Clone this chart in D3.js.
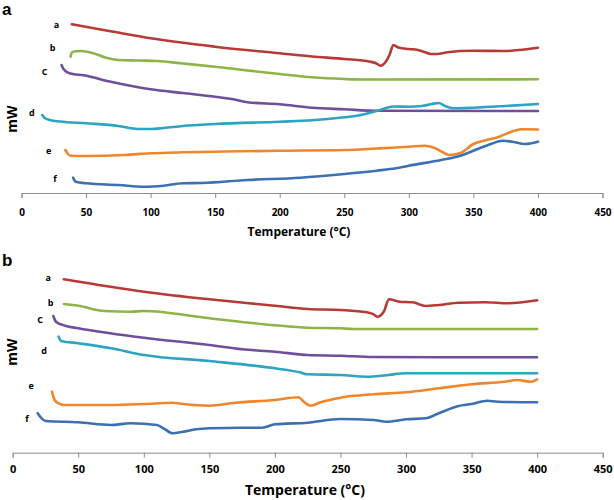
<!DOCTYPE html>
<html>
<head>
<meta charset="utf-8">
<script src="https://cdn.jsdelivr.net/npm/d3@7"></script>
<style>
  html, body { margin: 0; padding: 0; background: #fff; }
  svg { display: block; }
</style>
</head>
<body>
<svg id="chart" width="614" height="500"></svg>
<script>
// ---- DATA (x = Temperature °C, y = heat flow, arbitrary mW offset above axis) ----
const xTicks = [0, 50, 100, 150, 200, 250, 300, 350, 400, 450];
const seriesNames = ["a", "b", "C", "d", "e", "f"];
const seriesColors = ["#b83a36", "#8db446", "#6f4e9c", "#2ea3c2", "#f0862c", "#3d6fb3"];

// Panel a
const aT_a = [[39,168.7],[70,161.5],[100,154.7],[150,146.3],[200,139.7],[225,136.5],[250,134],[270,131.3],[275,129.5],[278,127.3],[282,131],[285,138],[288,148],[292,145.5],[300,144],[307,143],[312,141],[317,139],[322,139],[330,140.7],[340,142],[350,142.3],[375,142],[385,143],[400,145.3]];
const aT_b = [[38,136.3],[39,140.5],[42,141.8],[46,142],[55,140],[65,135.5],[75,133],[90,132.5],[105,132],[125,129.5],[150,126.3],[175,122.5],[200,119],[225,115.7],[250,114],[265,113.5],[400,113.7]];
const aT_c = [[31,128],[32,125],[34,122],[38,119.5],[48,117.7],[70,111],[100,103.7],[125,100],[150,96.3],[165,93.5],[175,90.7],[200,88.7],[225,85.3],[250,83.7],[275,82.2],[400,82]];
const aT_d = [[16,78],[18,75],[22,73],[30,71.5],[50,69.7],[75,67],[90,64],[100,64],[110,65],[125,67],[150,69],[200,71.3],[225,72.7],[250,75.7],[260,77.3],[275,82],[288,86.5],[300,86.3],[310,87],[318,89],[323,90],[328,87],[334,84.7],[350,85.3],[375,87],[400,89]];
const aT_e = [[34,43],[36,39],[38,37.3],[50,37],[80,38],[100,39.7],[125,40.7],[150,41.3],[200,42.3],[250,43],[275,44.5],[300,46.2],[312,47.3],[320,45],[326,41],[331,38],[340,40],[350,49],[360,53],[370,56.3],[380,61.5],[387,63.7],[400,63.5]];
const aT_f = [[40,15.3],[42,11.3],[50,9.7],[75,8],[95,6.3],[110,7.3],[125,9.7],[140,10],[175,13],[216,15.3],[250,19],[275,22.3],[290,24.7],[300,27.3],[325,33],[340,37.3],[350,42.3],[360,47.3],[373,52.3],[380,51.3],[390,49],[400,51.3]];

// Panel b
const bT_a = [[39,173.4],[100,161],[150,153.4],[200,147],[225,143.7],[250,142.7],[270,140.4],[275,138.5],[278,136],[283,141],[287,153.4],[295,151],[305,150.4],[315,146.7],[325,147.7],[340,150],[360,150.4],[378,149.4],[400,152.4]];
const bT_b = [[39,148.7],[50,147],[70,141.7],[90,141],[100,141.7],[150,134.4],[200,127.4],[225,125],[250,124.4],[260,123.7],[400,123.7]];
const bT_c = [[31,136.7],[33,131],[40,127],[50,124.4],[100,115],[150,107.7],[175,103.4],[200,101],[225,97.7],[250,97],[275,95.7],[400,95.4]];
const bT_d = [[35,116],[37,111.7],[50,109.4],[75,104.4],[100,97.7],[150,91.7],[200,84.4],[219,80.4],[225,78.4],[250,77.7],[270,76],[285,77.5],[300,79.4],[400,79.4]];
const bT_e = [[30,61],[32,52.7],[35,49.4],[40,47.7],[75,47.7],[100,48.7],[122,50],[130,48.7],[150,47],[170,50],[200,52.7],[218,55.4],[222,51],[227,47],[235,50.5],[250,55],[275,58.4],[300,60.4],[325,64.4],[350,68.4],[375,71],[385,72.7],[395,71],[400,73.4]];
const bT_f = [[19,39.4],[22,34.4],[25,31.7],[50,30.4],[75,27.7],[90,29.4],[110,27.7],[115,24.4],[122,19.4],[130,21],[140,23.4],[150,24.4],[175,25],[190,25],[200,28.4],[225,30],[250,33.7],[275,32.7],[285,31],[300,33.4],[315,34.4],[325,39.4],[340,46.7],[350,48.7],[362,52],[370,51],[400,50.4]];

const panelA = [aT_a, aT_b, aT_c, aT_d, aT_e, aT_f];
const panelB = [bT_a, bT_b, bT_c, bT_d, bT_e, bT_f];

// label positions in data coords (x, y) per series for each panel
const labelsA = [[27,168.5],[24,146],[18,122],[8,81],[21,43],[26,15]];
const labelsB = [[27,175],[29,150],[21,133.5],[24,102.5],[14,67],[11,34.5]];

// ---- DRAW ----
const svg = d3.select("#chart");

function drawPanel(cfg) {
  const x = d3.scaleLinear().domain([0, 450]).range([cfg.x0, cfg.x1]);
  const y = d3.scaleLinear().domain([0, cfg.axisY - cfg.top]).range([cfg.axisY, cfg.top]);
  const g = svg.append("g");

  // x axis
  const axis = d3.axisBottom(x).tickValues(xTicks).tickSize(5).tickPadding(cfg.tickPad).tickFormat(d3.format("d"));
  const ag = g.append("g").attr("transform", `translate(0,${cfg.axisY})`).call(axis);
  ag.select(".domain").attr("stroke", "#8c8c8c").attr("stroke-width", 1);
  ag.selectAll(".tick line").attr("stroke", "#8c8c8c");
  ag.selectAll(".tick text")
    .attr("fill", "#000")
    .style("font-family", "'Open Sans', 'DejaVu Sans', sans-serif")
    .style("font-weight", "bold")
    .style("font-size", cfg.tickFont + "px");

  const line = d3.line().x(d => x(d[0])).y(d => y(d[1])).curve(d3.curveMonotoneX);

  cfg.data.forEach((s, i) => {
    g.append("path")
      .datum(s)
      .attr("d", line)
      .attr("fill", "none")
      .attr("stroke", seriesColors[i])
      .attr("stroke-width", 2.6)
      .attr("stroke-linecap", "round")
      .attr("stroke-linejoin", "round");
  });

  cfg.labels.forEach((p, i) => {
    g.append("text")
      .attr("x", x(p[0]))
      .attr("y", y(p[1]))
      .attr("text-anchor", "middle")
      .attr("dominant-baseline", "central")
      .style("font-family", "'Open Sans', 'DejaVu Sans', sans-serif")
      .style("font-weight", "bold")
      .style("font-size", "9px")
      .text(seriesNames[i]);
  });

  // axis title
  g.append("text")
    .attr("x", cfg.titleX)
    .attr("y", cfg.titleY)
    .attr("text-anchor", "middle")
    .style("font-family", "'Open Sans', 'DejaVu Sans', sans-serif")
    .style("font-weight", "bold")
    .style("font-size", cfg.titleFont + "px")
    .text("Temperature (°C)");

  // y title
  g.append("text")
    .attr("transform", `translate(${cfg.mwX},${cfg.mwY}) rotate(-90)`)
    .attr("text-anchor", "middle")
    .attr("dominant-baseline", "central")
    .style("font-family", "'Open Sans', 'DejaVu Sans', sans-serif")
    .style("font-weight", "bold")
    .style("font-size", "14px")
    .text("mW");

  // panel letter
  g.append("text")
    .attr("x", 2)
    .attr("y", cfg.letterY)
    .style("font-family", "'Liberation Sans', Arial, sans-serif")
    .style("font-weight", "bold")
    .style("font-size", "17px")
    .text(cfg.letter);
}

drawPanel({ data: panelA, labels: labelsA, x0: 21.5, x1: 602.5, axisY: 193, top: 3,
  tickPad: 11, tickFont: 10, titleX: 299, titleY: 236, titleFont: 12, mwX: 11, mwY: 119, letter: "a", letterY: 15 });
drawPanel({ data: panelB, labels: labelsB, x0: 12.7, x1: 602.7, axisY: 452.7, top: 240,
  tickPad: 8, tickFont: 11, titleX: 305, titleY: 495, titleFont: 14, mwX: 11, mwY: 352, letter: "b", letterY: 266 });
</script>
</body>
</html>
